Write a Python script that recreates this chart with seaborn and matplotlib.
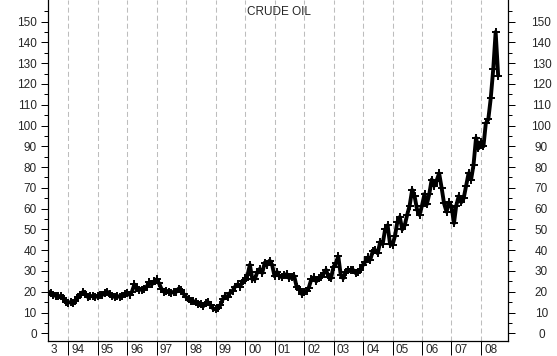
import pandas as pd
import matplotlib
matplotlib.use('Agg')
import matplotlib.pyplot as plt
from matplotlib.transforms import ScaledTranslation
import seaborn as sns

# monthly crude oil price (USD/bbl), first of each month, May 1993 - Aug 2008
price = [
    20.0, 19.5, 18.5, 18.0, 18.0, 17.8, 17.0, 15.0,                    # 1993
    14.8, 15.0, 14.8, 15.5, 17.5, 18.5, 19.8, 19.0, 17.5, 17.8, 18.0, 17.5,  # 1994
    17.8, 18.5, 18.5, 19.2, 20.0, 19.0, 17.8, 17.5, 18.0, 17.5, 18.0, 18.8,  # 1995
    19.5, 18.5, 20.0, 23.5, 22.0, 21.0, 21.0, 21.5, 22.5, 24.5, 23.5, 25.0,  # 1996
    26.0, 24.0, 21.5, 20.0, 20.5, 20.0, 19.5, 20.0, 20.0, 21.5, 21.0, 19.0,  # 1997
    17.5, 16.5, 15.5, 15.5, 15.0, 14.0, 14.0, 13.0, 14.5, 15.0, 13.5, 12.0,  # 1998
    11.5, 12.0, 13.5, 16.5, 18.0, 17.5, 19.5, 20.5, 22.5, 23.5, 22.5, 25.0,  # 1999
    25.5, 28.0, 33.0, 26.0, 26.0, 29.5, 31.0, 29.0, 34.0, 33.0, 35.0, 33.0,  # 2000
    27.5, 29.5, 27.5, 27.0, 28.0, 28.5, 26.5, 27.0, 27.5, 22.5, 21.5, 19.0,  # 2001
    20.0, 20.5, 22.0, 26.0, 27.0, 25.0, 26.5, 27.0, 29.0, 30.5, 27.0, 26.5,  # 2002
    32.0, 34.0, 37.0, 28.0, 26.5, 29.5, 30.5, 30.5, 30.5, 29.0, 29.5, 30.5,  # 2003
    33.0, 34.5, 36.5, 35.5, 39.5, 40.0, 38.5, 44.0, 43.0, 50.0, 52.0, 43.0,  # 2004
    42.5, 47.0, 53.5, 56.0, 50.0, 52.0, 57.0, 61.5, 69.0, 66.0, 59.5, 57.0,  # 2005
    61.5, 67.0, 62.0, 67.0, 74.0, 71.0, 73.5, 77.0, 70.0, 62.5, 58.5, 63.0,  # 2006
    61.0, 53.0, 61.5, 66.0, 63.0, 65.0, 71.0, 77.0, 74.0, 81.0, 94.0, 89.0,  # 2007
    92.0, 90.0, 101.0, 103.0, 113.0, 127.0, 145.0, 124.0,                # 2008
]
dates = pd.date_range('1993-05-01', periods=len(price), freq='MS')

year_labels = ['94', '95', '96', '97', '98', '99', '00', '01', '02', '03',
               '04', '05', '06', '07', '08']
year_ticks = pd.to_datetime(['19' + y if y > '50' else '20' + y for y in year_labels])

df = pd.DataFrame({'date': dates, 'price': price})

sns.set_style('white')
plt.rcParams['font.family'] = ['Liberation Sans', 'DejaVu Sans']
plt.rcParams['font.size'] = 8.5

fig = plt.figure(figsize=(5.57, 3.56), dpi=100)
ax = fig.add_axes([48 / 557, 15 / 356, 460 / 557, 341 / 356])

for t in year_ticks:
    ax.axvline(t, color='#bdbdbd', lw=0.75, ls=(0, (4.8, 2.9)), zorder=0)

sns.lineplot(data=df, x='date', y='price', ax=ax, color='black', lw=2.8,
             marker='+', markersize=6, markeredgewidth=1.4, markeredgecolor='black')

x0 = pd.Timestamp('1993-04-27')
ax.set_xlim(x0, pd.Timestamp('2008-12-01'))
ax.set_ylim(-3.7, 160.4)
ax.set_xlabel('')
ax.set_ylabel('')

ax.set_yticks(range(0, 151, 10))
ax.set_yticks(range(5, 160, 10), minor=True)
ax.tick_params(axis='y', which='major', length=5.2, width=0.72, color='black',
               left=True, right=True, labelleft=True, labelright=True, pad=2.9)
ax.tick_params(axis='y', which='minor', length=2.9, width=0.72, color='black',
               left=True, right=True)
for tick in ax.yaxis.get_major_ticks():
    tick.label2.set_horizontalalignment('center')
    tick.label2.set_transform(tick.label2.get_transform() +
                              ScaledTranslation(16 / 72, 0, fig.dpi_scale_trans))

# year ticks hang below the axis, labels sit to the right of each tick
xpad = -8.0
ax.set_xticks(year_ticks)
ax.set_xticklabels(year_labels, ha='left')
ax.tick_params(axis='x', which='major', length=10, width=0.72, color='black',
               direction='out', bottom=True, pad=xpad)
shift = ScaledTranslation(2.2 / 72, 0, fig.dpi_scale_trans)
for lab in ax.get_xticklabels():
    lab.set_transform(lab.get_transform() + shift)
ax.text(x0, 0, '3', ha='left', va='top',
        transform=ax.get_xaxis_transform() +
        ScaledTranslation(1.5 / 72, -(10 + xpad) / 72, fig.dpi_scale_trans))

for s in ['left', 'right', 'bottom']:
    ax.spines[s].set_color('black')
    ax.spines[s].set_linewidth(0.9)
ax.spines['top'].set_visible(False)

fig.text(279 / 557, 1 - 12 / 356, 'CRUDE OIL', ha='center', va='center', fontsize=8.5)

fig.savefig('out.png', dpi=100)
